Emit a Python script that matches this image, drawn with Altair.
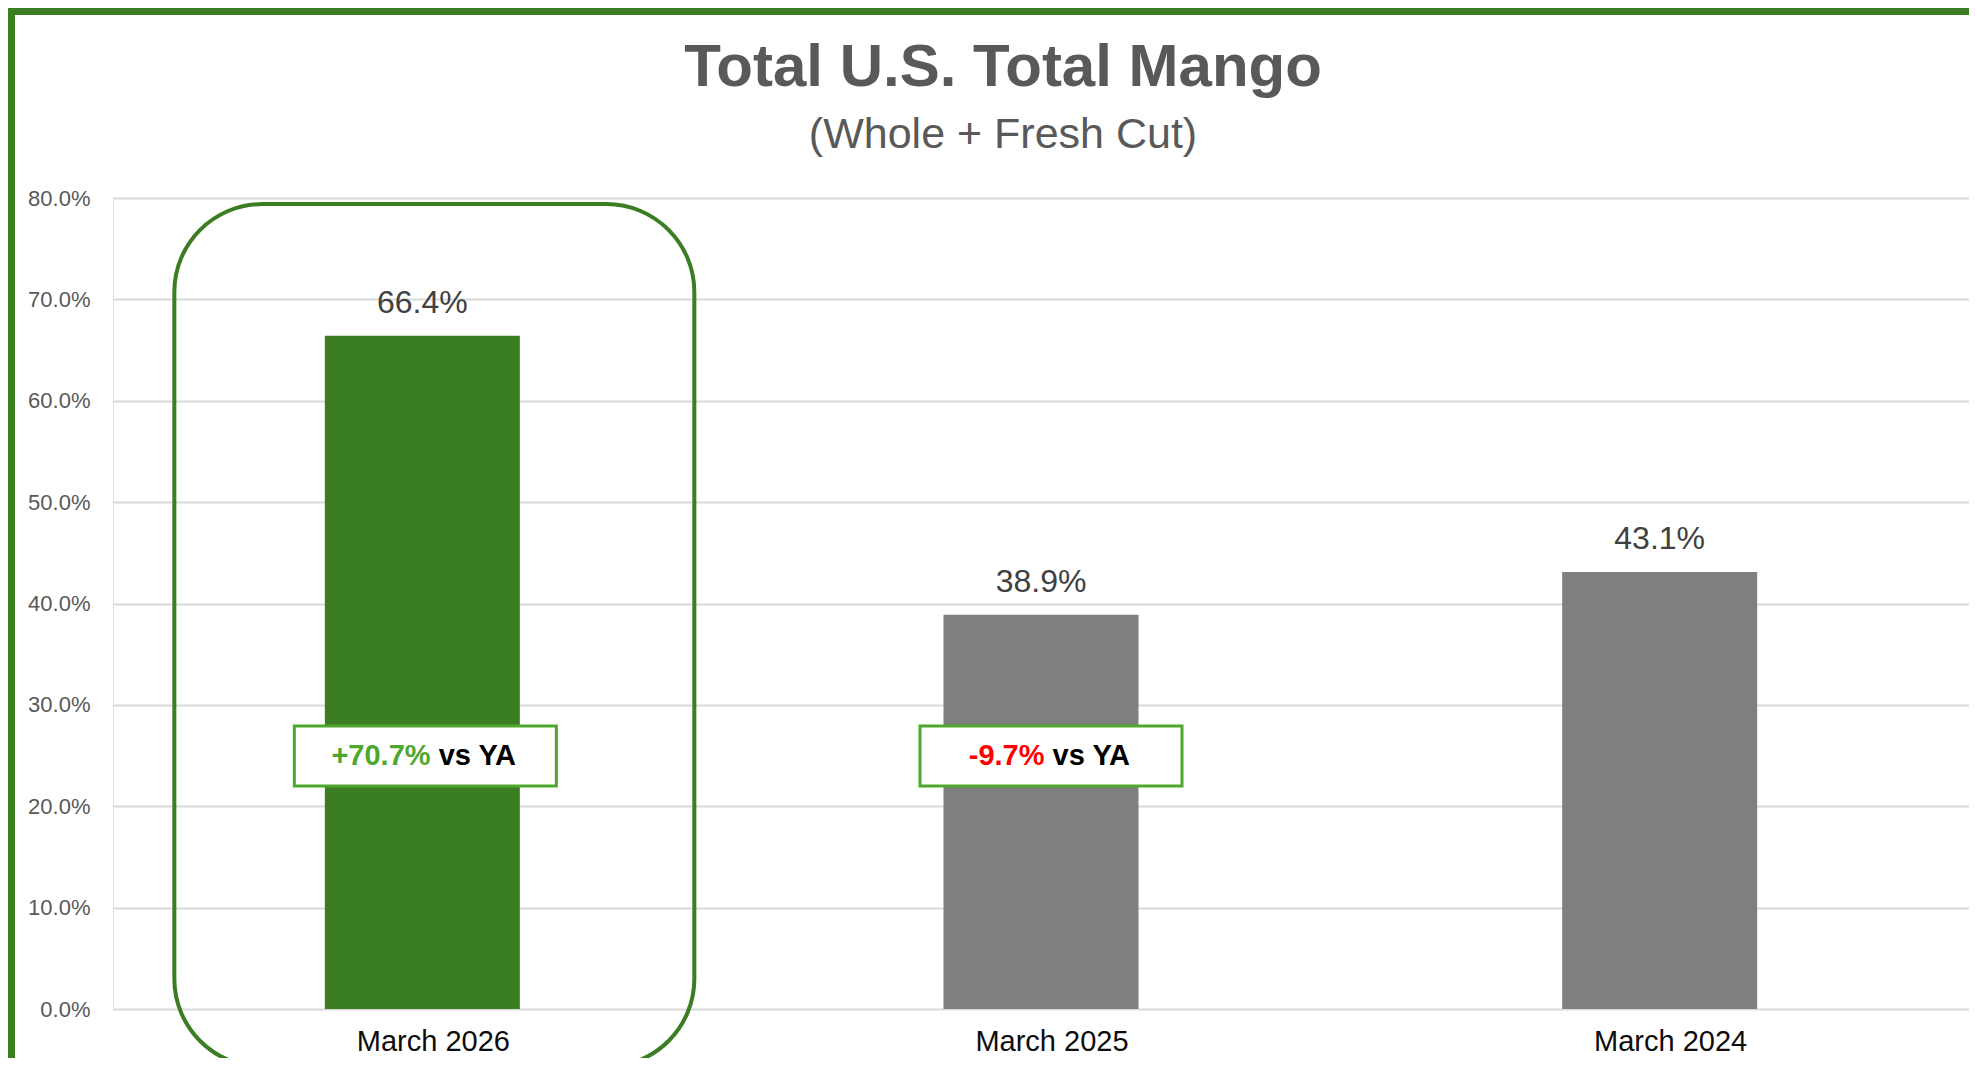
import altair as alt
import pandas as pd

# ---------------- data ----------------
categories = ["March 2026", "March 2025", "March 2024"]
shares = [0.664, 0.389, 0.431]
bar_colors = ["#3b7d23", "#7f7f7f", "#7f7f7f"]

annot_categories = ["March 2026", "March 2025"]
annot_changes = ["+70.7%", "-9.7%"]
annot_colors = ["#4ea72e", "#ff0000"]
annot_suffix = "vs YA"
annot_shift = [3, 10]          # px nudge of each callout box
annot_center = 0.2496
annot_half = 0.0296

highlight_category = "March 2026"
highlight_top = 0.794
highlight_bottom = -0.057

y_ticks = [0.0, 0.1, 0.2, 0.3, 0.4, 0.5, 0.6, 0.7, 0.8]

title_text = "Total U.S. Total Mango"
subtitle_text = "(Whole + Fresh Cut)"

# ---------------- layout ----------------
PW, PH = 1856, 811
PAD = {"left": 105, "top": 190, "right": 0, "bottom": 49}
FONT = "Liberation Sans"
GREEN = "#3b7d23"

bars_df = pd.DataFrame({"category": categories, "share": shares})
hl_df = pd.DataFrame({"category": [highlight_category],
                      "top": [highlight_top], "bottom": [highlight_bottom]})
ann_df = pd.DataFrame({
    "category": annot_categories,
    "change": annot_changes,
    "color": annot_colors,
    "suffix": [annot_suffix] * len(annot_categories),
    "lo": [annot_center - annot_half] * len(annot_categories),
    "hi": [annot_center + annot_half] * len(annot_categories),
    "mid": [annot_center] * len(annot_categories),
})

xscale = alt.Scale(domain=categories, paddingInner=0, paddingOuter=0)
yscale = alt.Scale(domain=[0, 0.8], nice=False)

x_enc = alt.X("category:N", scale=xscale, sort=categories, title=None,
              axis=alt.Axis(labelAngle=0, labelFontSize=29, labelFont=FONT,
                            labelColor="#0d0d0d", labelPadding=18, ticks=False,
                            tickSize=0, domain=False, grid=False, labelOffset=11))
y_axis = alt.Axis(values=y_ticks, format=".1%", labelFontSize=22, labelFont=FONT,
                  labelColor="#595959", labelPadding=23, ticks=False, tickSize=0,
                  domain=False, grid=True, gridColor="#d9d9d9", gridWidth=2,
                  title=None)

bars = alt.Chart(bars_df).mark_bar(size=195).encode(
    x=x_enc,
    y=alt.Y("share:Q", scale=yscale, axis=y_axis),
    color=alt.Color("category:N", scale=alt.Scale(domain=categories, range=bar_colors),
                    legend=None),
)

labels = alt.Chart(bars_df).mark_text(
    baseline="alphabetic", dy=-23, fontSize=32, font=FONT, color="#404040"
).encode(
    x=alt.X("category:N", scale=xscale, sort=categories),
    y=alt.Y("share:Q", scale=yscale),
    text=alt.Text("share:Q", format=".1%"),
)

highlight = alt.Chart(hl_df).mark_bar(
    size=520, xOffset=12, cornerRadius=88, fill="transparent", stroke=GREEN,
    strokeWidth=4, clip=False
).encode(
    x=alt.X("category:N", scale=xscale, sort=categories),
    y=alt.Y("top:Q", scale=yscale),
    y2="bottom:Q",
)

# approximate Arial-bold advance widths (em) used to split the two-colour callout text
W_BOLD = {"+": .584, "-": .333, ".": .278, "%": .889, " ": .278, "v": .556, "s": .556,
          "Y": .667, "A": .722}
def em_width(s):
    return sum(W_BOLD.get(ch, .556) for ch in s)

ANN_FS = 29
ann_layers = []
for i, cat in enumerate(annot_categories):
    sub = alt.Chart(ann_df).transform_filter(alt.datum.category == cat)
    split = (em_width(annot_changes[i]) - em_width(annot_suffix)) / 2 * ANN_FS
    half_space = em_width(" ") * ANN_FS / 2
    box = sub.mark_bar(size=262, xOffset=annot_shift[i], fill="white",
                       stroke="#4ea72e", strokeWidth=3).encode(
        x=alt.X("category:N", scale=xscale, sort=categories),
        y=alt.Y("lo:Q", scale=yscale),
        y2="hi:Q",
    )
    pct = sub.mark_text(align="right", baseline="middle", fontSize=ANN_FS,
                        fontWeight="bold", font=FONT,
                        dx=annot_shift[i] + split - half_space).encode(
        x=alt.X("category:N", scale=xscale, sort=categories),
        y=alt.Y("mid:Q", scale=yscale),
        text="change:N",
        color=alt.Color("color:N", scale=None),
    )
    vs = sub.mark_text(align="left", baseline="middle", fontSize=ANN_FS,
                       fontWeight="bold", font=FONT, color="#000000",
                       dx=annot_shift[i] + split + half_space).encode(
        x=alt.X("category:N", scale=xscale, sort=categories),
        y=alt.Y("mid:Q", scale=yscale),
        text="suffix:N",
    )
    ann_layers += [box, pct, vs]

one = pd.DataFrame({"k": [0]})
frame_top = alt.Chart(one).mark_rule(color=GREEN, strokeWidth=7).encode(
    x=alt.value(-PAD["left"]), x2=alt.value(PW + PAD["right"]),
    y=alt.value(-PAD["top"] + 3.5))
frame_left = alt.Chart(one).mark_rule(color=GREEN, strokeWidth=7).encode(
    x=alt.value(-PAD["left"] + 3.5),
    y=alt.value(-PAD["top"]), y2=alt.value(PH + PAD["bottom"]))

chart = alt.layer(bars, labels, highlight, *ann_layers, frame_top, frame_left).properties(
    width=PW, height=PH,
    autosize=alt.AutoSizeParams(type="none"),
    padding=PAD,
    title=alt.TitleParams(
        text=title_text, subtitle=subtitle_text, anchor="middle", frame="group",
        dx=-38, offset=-153, fontSize=60, font=FONT, fontWeight="bold",
        color="#595959", subtitleFontSize=43, subtitleFont=FONT,
        subtitleFontWeight="normal", subtitleColor="#595959", subtitlePadding=15,
    ),
).configure_view(stroke=None).configure(background="white")

chart.save("out.html", embed_options={"renderer": "svg", "actions": False})
